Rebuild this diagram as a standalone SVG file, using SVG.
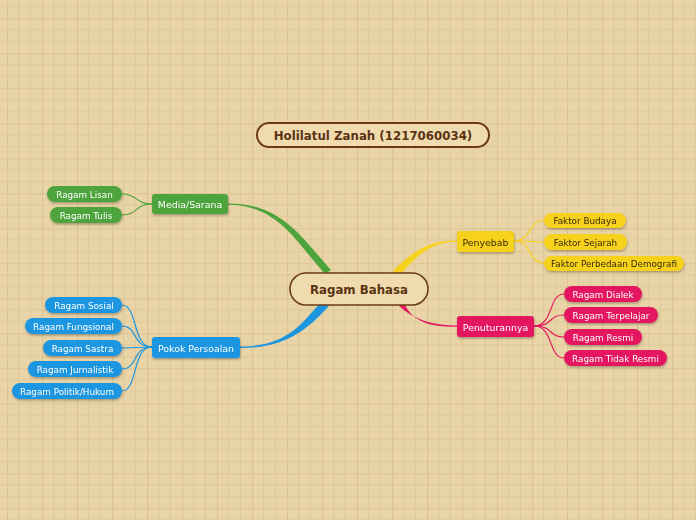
<svg xmlns="http://www.w3.org/2000/svg" width="696" height="520" viewBox="0 0 696 520">
<defs>
<pattern id="grid" x="7" y="18.3" width="35" height="35" patternUnits="userSpaceOnUse">
<rect width="35" height="35" fill="#e9d4a7"/>
<path d="M11.67 0V35M23.33 0V35M0 11.67H35M0 23.33H35" stroke="#e0c898" stroke-width="1"/>
<path d="M0.5 0V35M0 0.5H35" stroke="#dcc391" stroke-width="1.2"/>
</pattern>
<filter id="sh" x="-20%" y="-30%" width="140%" height="170%">
<feDropShadow dx="0.5" dy="1.5" stdDeviation="0.8" flood-color="#000" flood-opacity="0.3"/>
</filter>
</defs>
<style>
text{font-family:"DejaVu Sans","Verdana",sans-serif;text-anchor:middle;dominant-baseline:central}
.t{font-size:8.8px}
.m{font-size:9.4px}
.w{fill:#ffffff}
.d{fill:#3a2a05}
.g{fill:#4ea43c}
.b{fill:#1d96e0}
.y{fill:#f7d21c}
.p{fill:#e3185e}
.lg{fill:none;stroke:#4ea43c;stroke-width:1.2}
.lb{fill:none;stroke:#1d96e0;stroke-width:1.2}
.ly{fill:none;stroke:#f7d21c;stroke-width:1.2}
.lp{fill:none;stroke:#e3185e;stroke-width:1.2}
</style>
<rect width="696" height="520" fill="url(#grid)"/>

<g id="connectors">
<path class="g" d="M228,203.5 C282,203 302,238 331,270 L 325,274 C 296,242 278,205 228,204.8 Z"/>
<path class="b" d="M240,346.5 C285,346.5 300,326 321,302 L 329,306 C 306,331 285,348 240,348 Z"/>
<path class="y" d="M393,271 C 414,250 430,240.5 457,240.5 L 457,241.8 C 432,242 418,254 400,275 Z"/>
<path class="p" d="M399,306 C 416,321 435,325.5 457,325.5 L 457,326.8 C 432,327 413,323 404,303 Z"/>

<path class="lg" d="M152,204 C 135,204 138,194 122,194"/>
<path class="lg" d="M152,204 C 135,204 138,215 122,215"/>

<path class="lb" d="M152,347 C 132,347 138,305 122,305"/>
<path class="lb" d="M152,347 C 132,347 138,326 122,326"/>
<path class="lb" d="M152,347 L 122,348"/>
<path class="lb" d="M152,347 C 132,347 138,369 122,369"/>
<path class="lb" d="M152,347 C 132,347 138,391 122,391"/>

<path class="ly" d="M514,241 C 532,241 528,220 544,220"/>
<path class="ly" d="M514,241 L 544,242"/>
<path class="ly" d="M514,241 C 532,241 528,263 544,263"/>

<path class="lp" d="M534,326 C 554,326 548,294 564,294"/>
<path class="lp" d="M534,326 C 554,326 548,315 564,315"/>
<path class="lp" d="M534,326 C 554,326 548,337 564,337"/>
<path class="lp" d="M534,326 C 554,326 548,358 564,358"/>
</g>

<g id="title">
<rect x="257" y="123" width="232" height="24" rx="12" fill="#f0dbaf" stroke="#6b3c14" stroke-width="2"/>
<text x="373" y="135.5" font-size="11.8" font-weight="bold" fill="#5a3313">Holilatul Zanah (1217060034)</text>
</g>

<g id="center">
<rect x="290" y="273" width="138" height="32" rx="16" fill="#f0dbaf" stroke="#6b3c14" stroke-width="1.6"/>
<text x="359" y="289.5" font-size="11.8" font-weight="bold" fill="#5a3313">Ragam Bahasa</text>
</g>

<g id="media" filter="url(#sh)"><rect class="g" x="152" y="194" width="76" height="20" rx="3"/><text class="m w" x="190" y="204.5">Media/Sarana</text></g>
<g id="lisan" filter="url(#sh)"><rect class="g" x="47" y="186" width="75" height="16" rx="8"/><text class="t w" x="84.5" y="194.5">Ragam Lisan</text></g>
<g id="tulis" filter="url(#sh)"><rect class="g" x="50" y="207" width="72" height="16" rx="8"/><text class="t w" x="86" y="215.5">Ragam Tulis</text></g>

<g id="pokok" filter="url(#sh)"><rect class="b" x="152" y="337" width="88" height="21" rx="3"/><text class="m w" x="196" y="348">Pokok Persoalan</text></g>
<g id="sosial" filter="url(#sh)"><rect class="b" x="45" y="297" width="77" height="16" rx="8"/><text class="t w" x="84" y="305.5">Ragam Sosial</text></g>
<g id="fungsional" filter="url(#sh)"><rect class="b" x="25" y="318" width="97" height="16" rx="8"/><text class="t w" x="73.5" y="326.5">Ragam Fungsional</text></g>
<g id="sastra" filter="url(#sh)"><rect class="b" x="43" y="340" width="79" height="16" rx="8"/><text class="t w" x="82.5" y="348.5">Ragam Sastra</text></g>
<g id="jurnalistik" filter="url(#sh)"><rect class="b" x="28" y="361" width="94" height="16" rx="8"/><text class="t w" x="75" y="369.5">Ragam Jurnalistik</text></g>
<g id="politik" filter="url(#sh)"><rect class="b" x="12" y="383" width="110" height="16" rx="8"/><text class="t w" x="67" y="391.5">Ragam Politik/Hukum</text></g>

<g id="penyebab" filter="url(#sh)"><rect class="y" x="457" y="231" width="57" height="21" rx="3"/><text class="m d" x="485.5" y="242">Penyebab</text></g>
<g id="budaya" filter="url(#sh)"><rect class="y" x="544" y="213" width="82" height="15" rx="7.5"/><text class="t d" x="585" y="221">Faktor Budaya</text></g>
<g id="sejarah" filter="url(#sh)"><rect class="y" x="544" y="234" width="83" height="16" rx="8"/><text class="t d" x="585.5" y="242.5">Faktor Sejarah</text></g>
<g id="demografi" filter="url(#sh)"><rect class="y" x="544" y="256" width="140" height="15" rx="7.5"/><text class="t d" x="614" y="264">Faktor Perbedaan Demografi</text></g>

<g id="penuturannya" filter="url(#sh)"><rect class="p" x="457" y="316" width="77" height="21" rx="3"/><text class="m w" x="495.5" y="327">Penuturannya</text></g>
<g id="dialek" filter="url(#sh)"><rect class="p" x="564" y="286" width="78" height="16" rx="8"/><text class="t w" x="603" y="294.5">Ragam Dialek</text></g>
<g id="terpelajar" filter="url(#sh)"><rect class="p" x="564" y="307" width="94" height="16" rx="8"/><text class="t w" x="611" y="315.5">Ragam Terpelajar</text></g>
<g id="resmi" filter="url(#sh)"><rect class="p" x="564" y="329" width="78" height="16" rx="8"/><text class="t w" x="603" y="337.5">Ragam Resmi</text></g>
<g id="tidakresmi" filter="url(#sh)"><rect class="p" x="564" y="350" width="103" height="16" rx="8"/><text class="t w" x="615.5" y="358.5">Ragam Tidak Resmi</text></g>
</svg>
